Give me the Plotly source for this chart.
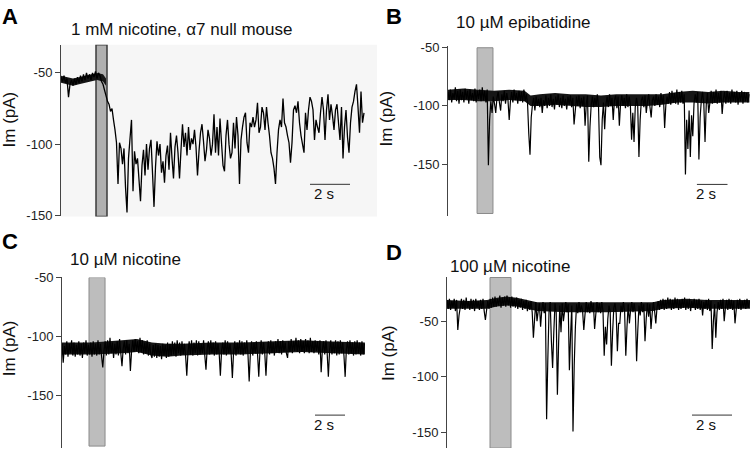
import plotly.graph_objects as go

# ---------------- data ----------------
sample_interval = {"A": 0.075, "B": 0.08, "C": 0.08, "D": 0.06}

# membrane current (pA)
trace_a = [
    -53, -56, -52, -57, -54, -67, -58, -55, -59, -54,
    -58, -53, -57, -52, -56, -51, -55, -50, -54, -51,
    -55, -50, -53, -49, -54, -50, -52, -56, -58, -62,
    -66, -70, -72, -77, -75, -83, -90, -99, -128, -99,
    -103, -114, -103, -130, -148, -110, -96, -83, -133, -105,
    -114, -110, -125, -140, -115, -104, -122, -100, -118, -103,
    -97, -120, -144, -116, -98, -108, -100, -120, -112, -127,
    -108, -101, -118, -92, -110, -124, -102, -94, -106, -124,
    -104, -86, -102, -92, -108, -88, -104, -96, -100, -90,
    -102, -122, -105, -92, -86, -98, -112, -104, -90, -96,
    -108, -100, -79, -106, -88, -108, -82, -99, -115, -119,
    -94, -83, -100, -110, -106, -85, -103, -81, -94, -128,
    -97, -88, -81, -78, -99, -106, -85, -88, -81, -88,
    -83, -71, -92, -88, -74, -78, -90, -74, -85, -94,
    -106, -110, -117, -128, -106, -90, -83, -88, -68, -85,
    -88, -94, -99, -113, -99, -76, -73, -78, -70, -85,
    -94, -100, -106, -78, -90, -76, -67, -70, -76, -97,
    -83, -88, -92, -78, -67, -76, -97, -76, -65, -83,
    -72, -80, -90, -76, -72, -85, -97, -74, -110, -88,
    -76, -95, -106, -85, -74, -70, -63, -58, -74, -92,
    -63, -85, -78,
]

trace_b = [
    -88, -95, -86, -97, -89, -94, -84, -96, -87, -98,
    -86, -95, -88, -97, -85, -94, -87, -98, -86, -95,
    -89, -96, -85, -97, -87, -94, -86, -96, -84, -95,
    -87, -97, -86, -151, -112, -96, -106, -92, -98, -106,
    -93, -88, -97, -104, -90, -96, -87, -98, -89, -95,
    -112, -96, -88, -97, -86, -95, -89, -98, -87, -96,
    -88, -97, -86, -96, -90, -98, -124, -142, -110, -99,
    -93, -104, -92, -100, -94, -101, -93, -106, -95, -100,
    -91, -102, -93, -100, -90, -101, -94, -103, -92, -99,
    -90, -101, -93, -102, -91, -100, -94, -103, -92, -99,
    -91, -101, -93, -116, -104, -92, -100, -91, -102, -93,
    -100, -92, -117, -98, -91, -148, -118, -99, -92, -101,
    -93, -100, -90, -101, -144, -151, -112, -97, -120, -99,
    -92, -101, -90, -100, -93, -112, -95, -91, -102, -92,
    -117, -98, -91, -100, -93, -102, -90, -101, -92, -99,
    -129, -106, -131, -101, -93, -100, -144, -112, -95, -92,
    -101, -91, -106, -96, -90, -101, -110, -95, -92, -100,
    -90, -99, -92, -101, -89, -98, -91, -119, -99, -92,
    -98, -88, -99, -87, -97, -89, -98, -86, -99, -88,
    -97, -87, -98, -90, -159, -112, -137, -104, -144, -108,
    -126, -98, -90, -97, -88, -146, -110, -95, -88, -98,
    -131, -99, -89, -106, -97, -87, -98, -88, -97, -86,
    -98, -89, -97, -87, -107, -94, -88, -98, -87, -97,
    -89, -98, -86, -96, -88, -97, -87, -99, -89, -96,
    -87, -98, -88, -96, -89, -97, -90,
]

trace_c = [
    -106, -122, -108, -115, -104, -117, -106, -114, -103, -116,
    -105, -117, -107, -115, -104, -116, -106, -118, -105, -114,
    -103, -116, -107, -115, -105, -117, -104, -115, -106, -116,
    -103, -115, -106, -117, -126, -112, -104, -116, -103, -115,
    -101, -114, -105, -118, -106, -115, -104, -116, -102, -114,
    -125, -110, -104, -115, -103, -114, -106, -129, -112, -103,
    -113, -102, -112, -104, -114, -101, -113, -103, -115, -105,
    -114, -103, -116, -106, -115, -118, -107, -117, -106, -118,
    -107, -117, -108, -119, -106, -116, -107, -118, -105, -117,
    -106, -116, -104, -115, -105, -117, -103, -114, -105, -116,
    -104, -115, -106, -116, -133, -113, -104, -115, -103, -116,
    -105, -114, -103, -116, -104, -115, -106, -114, -103, -116,
    -128, -110, -104, -115, -103, -114, -105, -116, -104, -115,
    -106, -114, -133, -112, -105, -115, -103, -116, -104, -114,
    -106, -115, -135, -113, -104, -116, -105, -114, -103, -115,
    -104, -116, -105, -114, -103, -115, -138, -114, -104, -116,
    -105, -114, -104, -115, -134, -112, -103, -115, -105, -114,
    -133, -112, -104, -115, -103, -114, -105, -116, -104, -113,
    -102, -114, -104, -115, -103, -113, -105, -114, -118, -104,
    -113, -102, -114, -104, -112, -101, -113, -103, -114, -102,
    -113, -104, -114, -102, -112, -103, -114, -101, -113, -104,
    -114, -103, -112, -104, -115, -103, -130, -111, -104, -115,
    -103, -114, -134, -112, -103, -115, -105, -114, -103, -116,
    -104, -115, -103, -114, -105, -116, -134, -111, -104, -115,
    -103, -114, -105, -116, -104, -115, -103, -114, -105, -116,
    -104, -115, -106,
]

trace_d = [
    -31, -39, -30, -40, -32, -38, -30, -41, -31, -58,
    -45, -38, -30, -39, -31, -40, -29, -38, -32, -40,
    -30, -39, -31, -41, -30, -38, -32, -40, -31, -39,
    -30, -41, -49, -40, -32, -39, -30, -38, -29, -37,
    -28, -37, -30, -36, -27, -38, -29, -36, -28, -37,
    -27, -36, -29, -38, -28, -37, -30, -38, -29, -39,
    -31, -38, -30, -40, -32, -39, -31, -41, -33, -40,
    -32, -42, -65, -48, -33, -50, -41, -34, -55, -40,
    -33, -43, -34, -138, -85, -42, -33, -68, -92, -60,
    -34, -42, -116, -70, -36, -60, -34, -50, -41, -33,
    -42, -35, -94, -62, -36, -149, -90, -55, -35, -43,
    -33, -42, -36, -41, -58, -44, -33, -42, -35, -43,
    -32, -41, -34, -57, -44, -33, -42, -34, -43, -33,
    -41, -81, -55, -71, -48, -36, -42, -90, -60, -38,
    -34, -43, -77, -52, -52, -36, -42, -33, -41, -81,
    -55, -35, -52, -40, -33, -42, -34, -43, -86, -58,
    -36, -45, -33, -42, -35, -68, -48, -34, -46, -35,
    -57, -43, -33, -41, -52, -38, -32, -40, -31, -39,
    -30, -40, -31, -39, -29, -38, -30, -40, -31, -39,
    -29, -38, -30, -40, -31, -39, -30, -38, -29, -40,
    -31, -39, -30, -41, -32, -38, -30, -40, -31, -39,
    -30, -40, -32, -45, -33, -39, -31, -40, -30, -41,
    -32, -75, -50, -35, -65, -42, -33, -40, -31, -39,
    -30, -50, -38, -31, -40, -30, -39, -31, -40, -32,
    -52, -40, -31, -39, -30, -40, -32, -38, -31, -39,
    -30, -38, -32,
]

# dense baseline-noise band of each trace, read every ~1 s (time s, upper pA, lower pA)
noise_t_a = [0.0, 0.3, 0.6, 0.9, 1.2, 1.5, 1.8, 2.1, 2.25]
noise_hi_a = [-52, -53, -54, -53, -52, -51, -50, -51, -54]
noise_lo_a = [-57, -58, -59, -58, -57, -56, -55, -56, -59]

noise_t_b = [0.0, 1.0, 2.0, 3.0, 4.0, 5.0, 5.4, 6.0, 7.0, 8.0, 9.0, 10.0,
             11.0, 12.0, 13.0, 14.0, 15.0, 16.0, 17.0, 18.0, 19.0, 19.7]
noise_hi_b = [-86, -85, -86, -87, -86, -87, -91, -90, -89, -90, -90, -91,
              -90, -90, -90, -90, -88, -87, -88, -87, -88, -88]
noise_lo_b = [-95, -95, -96, -96, -95, -96, -100, -100, -99, -100, -101, -101,
              -100, -100, -100, -99, -97, -97, -98, -97, -97, -97]

noise_t_c = [0.0, 2.0, 4.0, 5.0, 6.0, 7.0, 8.0, 10.0, 12.0, 14.0, 16.0, 18.0, 20.2]
noise_hi_c = [-105, -105, -103, -102, -105, -106, -106, -105, -105, -104, -103, -104, -105]
noise_lo_c = [-115, -115, -114, -113, -116, -117, -116, -115, -115, -114, -113, -114, -115]

noise_t_d = [0.0, 1.0, 2.0, 2.5, 3.0, 3.5, 4.0, 4.5, 6.0, 8.0, 10.3, 10.8, 12.0,
             13.0, 14.0, 15.15]
noise_hi_d = [-31, -32, -31, -29, -28, -29, -31, -33, -33, -33, -33, -31, -30,
              -31, -31, -31]
noise_lo_d = [-39, -39, -39, -37, -36, -37, -39, -41, -42, -42, -41, -39, -38,
              -39, -39, -39]

panel_letters = ["A", "B", "C", "D"]
panel_titles = ["1 mM nicotine, \u03b17 null mouse", "10 \u00b5M epibatidine",
                "10 \u00b5M nicotine", "100 \u00b5M nicotine"]
y_tick_values = [-150, -100, -50]
y_tick_labels = ["-150", "-100", "-50"]
y_label = "Im (pA)"

# drug application windows (s) and bar extent (pA)
drug_start = [1.75, 1.90, 1.80, 2.15]
drug_stop = [2.30, 2.94, 2.87, 3.20]
drug_top = [-30.3, -50.0, -50.0, -10.9]
drug_bottom = [-150.7, -192.5, -192.6, -163.9]

# time scale bars: start (s), length (s), level (pA)
scale_start = [12.45, 16.27, 16.87, 12.25]
scale_len = 2.0
scale_level = [-128.2, -167.5, -166.4, -134.3]
scale_text = "2 s"

# axis ranges
x_ranges = [[0, 15.8], [0, 19.74], [0, 20.87], [0, 15.15]]
y_ranges = [[-150.7, -30.3], [-195.0, -48.3], [-194.3, -49.9], [-163.9, -10.0]]

traces = {"A": trace_a, "B": trace_b, "C": trace_c, "D": trace_d}
noise = {"A": (noise_t_a, noise_hi_a, noise_lo_a),
         "B": (noise_t_b, noise_hi_b, noise_lo_b),
         "C": (noise_t_c, noise_hi_c, noise_lo_c),
         "D": (noise_t_d, noise_hi_d, noise_lo_d)}

# ---------------- layout geometry (pixels of a 750 x 458 canvas) ----------------
W, H = 750, 458
px_x = [(61, 377), (448, 750), (62, 375), (447, 750)]
px_y = [(39, 216), (40, 216), (279, 455), (278, 455)]
letter_pos = [(9.5, 10), (394, 10), (9.5, 242), (394, 253)]
title_pos = [(69, 23), (454, 16), (68, 260), (448, 268)]
ylabel_pos = [(9, 116), (386, 115), (9, 352), (388, 357)]

FONT = "Liberation Sans, Arial, Helvetica, sans-serif"
AXIS_COLOR = "#444444"

fig = go.Figure()
shapes = []
annotations = []

for k, key in enumerate(panel_letters):
    sfx = "" if k == 0 else str(k + 1)
    xa, ya = "x" + sfx, "y" + sfx
    y = traces[key]
    dt = sample_interval[key]
    t = [i * dt for i in range(len(y))]

    nt, nhi, nlo = noise[key]
    fig.add_trace(go.Scatter(x=nt, y=nhi, mode="lines", xaxis=xa, yaxis=ya,
                             line=dict(width=0, color="#161616"),
                             showlegend=False, hoverinfo="skip"))
    fig.add_trace(go.Scatter(x=nt, y=nlo, mode="lines", xaxis=xa, yaxis=ya,
                             line=dict(width=0, color="#161616"), fill="tonexty",
                             fillcolor="#161616", showlegend=False, hoverinfo="skip"))

    fig.add_trace(go.Scatter(
        x=t, y=y, mode="lines", xaxis=xa, yaxis=ya,
        line=dict(color="#000000", width=1.3 if key == "A" else 1.2, simplify=False),
        showlegend=False, hoverinfo="skip",
    ))

    x0, x1 = px_x[k]
    y0, y1 = px_y[k]
    fig.update_layout(**{
        "xaxis" + sfx: dict(domain=[x0 / W, x1 / W], range=x_ranges[k], visible=False,
                            anchor=ya, fixedrange=True),
        "yaxis" + sfx: dict(domain=[1 - y1 / H, 1 - y0 / H], range=y_ranges[k],
                            anchor=xa, showgrid=False, zeroline=False,
                            showline=True, linecolor=AXIS_COLOR, linewidth=1,
                            ticks="outside", ticklen=5, tickwidth=1, tickcolor=AXIS_COLOR,
                            tickvals=y_tick_values, ticktext=y_tick_labels,
                            tickfont=dict(family=FONT, size=13, color="#222222"),
                            fixedrange=True),
    })

    # light background only in panel A
    if k == 0:
        shapes.append(dict(type="rect", xref=xa + " domain", yref=ya + " domain",
                           x0=0, x1=1, y0=0, y1=1, layer="below",
                           fillcolor="#f6f6f6", line=dict(width=0)))

    # drug application bar
    if k == 0:
        bar_line = dict(color="#3a3a3a", width=1.5)
        bar_fill = "#b0b0b0"
    else:
        bar_line = dict(color="#8a8a8a", width=1)
        bar_fill = "#bdbdbd"
    shapes.append(dict(type="rect", xref=xa, yref=ya,
                       x0=drug_start[k], x1=drug_stop[k],
                       y0=drug_bottom[k], y1=drug_top[k],
                       layer="below", fillcolor=bar_fill, line=bar_line))

    # scale bar
    shapes.append(dict(type="line", xref=xa, yref=ya,
                       x0=scale_start[k], x1=scale_start[k] + scale_len,
                       y0=scale_level[k], y1=scale_level[k],
                       line=dict(color="#333333", width=1)))
    annotations.append(dict(xref=xa, yref=ya, x=scale_start[k] + scale_len / 2,
                            y=scale_level[k], text=scale_text, showarrow=False,
                            xanchor="center", yanchor="middle", xshift=-6, yshift=-9,
                            font=dict(family=FONT, size=15, color="#111111")))

    # panel letter
    lx, ly = letter_pos[k]
    annotations.append(dict(xref="paper", yref="paper", x=lx / W, y=1 - ly / H,
                            text="<b>" + key + "</b>", showarrow=False,
                            xanchor="center", yanchor="middle",
                            font=dict(family=FONT, size=22, color="#000000")))
    # title
    tx, ty = title_pos[k]
    annotations.append(dict(xref="paper", yref="paper", x=tx / W, y=1 - ty / H,
                            text=panel_titles[k], showarrow=False,
                            xanchor="left", yanchor="middle",
                            font=dict(family=FONT, size=17, color="#111111")))
    # y label
    gx, gy = ylabel_pos[k]
    annotations.append(dict(xref="paper", yref="paper", x=gx / W, y=1 - gy / H,
                            text=y_label, showarrow=False, textangle=-90,
                            xanchor="center", yanchor="middle",
                            font=dict(family=FONT, size=17, color="#111111")))

fig.update_layout(
    width=W, height=H,
    margin=dict(l=0, r=0, t=0, b=0),
    paper_bgcolor="#ffffff", plot_bgcolor="rgba(0,0,0,0)",
    shapes=shapes, annotations=annotations,
    showlegend=False,
)

# remove the browser's default page margin so the 750x458 figure fills the window
fig.write_html("out.html",
               config={"displayModeBar": False, "staticPlot": True},
               post_script="document.body.style.margin='0px';document.body.style.padding='0px';")
